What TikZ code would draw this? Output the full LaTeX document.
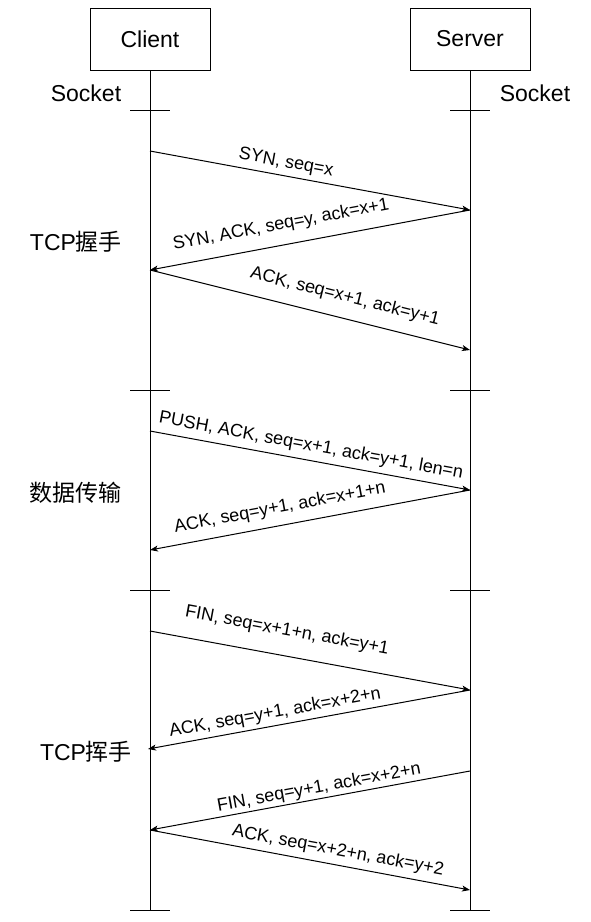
\documentclass[tikz,border=0pt]{standalone}
\usepackage{fontspec}
\setmainfont{Liberation Sans}
\newfontfamily\cjk{Noto Sans CJK SC}
\usetikzlibrary{arrows.meta}
\begin{document}
\begin{tikzpicture}[x=1pt,y=-1pt,
  big/.style={font=\fontsize{23}{27}\selectfont, inner sep=0pt},
  lbl/.style={font=\fontsize{18}{21}\selectfont, inner sep=0pt},
  actor/.style={draw, line width=1pt, minimum width=120pt, minimum height=62pt, big},
  life/.style={line width=1pt},
  tick/.style={line width=1pt},
  msg/.style={line width=1pt, -{Stealth[length=8pt,width=6pt,inset=2pt]}}]
\useasboundingbox (0,0) rectangle (591,922);
% actors
\node[actor] (client) at (150,39) {Client};
\node[actor] (server) at (470,39) {Server};
\coordinate (cend) at (150,910);
\coordinate (send) at (470,910);
\draw[life] (client.south) -- (cend);
\draw[life] (server.south) -- (send);
\node[big] (sockc) at (86,93) {Socket};
\node[big] (socks) at (535,93) {Socket};
% ticks
\foreach \y [count=\i] in {110,390,590,910}{
  \coordinate (ctl\i) at (130,\y); \coordinate (ctr\i) at (170,\y);
  \coordinate (stl\i) at (450,\y); \coordinate (str\i) at (490,\y);
  \draw[tick] (ctl\i) -- (ctr\i);
  \draw[tick] (stl\i) -- (str\i);
}
% section labels
\node[big] (hs) at (76,242) {TCP{\cjk 握手}};
\node[big] (dt) at (76,493) {\cjk 数据传输};
\node[big] (fw) at (86,752) {TCP{\cjk 挥手}};
% message endpoints
\coordinate (c1) at (150,151); \coordinate (s1) at (470,210);
\coordinate (c2) at (150,270); \coordinate (s2) at (470,350);
\coordinate (c3) at (150,431); \coordinate (s3) at (470,490);
\coordinate (c4) at (150,550);
\coordinate (c5) at (150,631); \coordinate (s5) at (470,690);
\coordinate (c6) at (148,749);
\coordinate (s7) at (470,771); \coordinate (c7) at (150,830);
\coordinate (s8) at (470,890);
% messages
\draw[msg] (c1) -- (s1);
\draw[msg] (s1) -- (c2);
\draw[msg] (c2) -- (s2);
\draw[msg] (c3) -- (s3);
\draw[msg] (s3) -- (c4);
\draw[msg] (c5) -- (s5);
\draw[msg] (s5) -- (c6);
\draw[msg] (s7) -- (c7);
\draw[msg] (c7) -- (s8);
% labels
\node[lbl, rotate=-10.45] (l1) at (286,163) {SYN, seq=x};
\node[lbl, rotate=10.6] (l2) at (281,225) {SYN, ACK, seq=y, ack=x+1};
\node[lbl, rotate=-14.04] (l3) at (345,297) {ACK, seq=x+1, ack=y+1};
\node[lbl, rotate=-10.45] (l4) at (311,446) {PUSH, ACK, seq=x+1, ack=y+1, len=n};
\node[lbl, rotate=10.6] (l5) at (280,508) {ACK, seq=y+1, ack=x+1+n};
\node[lbl, rotate=-10.45] (l6) at (287,631) {FIN, seq=x+1+n, ack=y+1};
\node[lbl, rotate=10.4] (l7) at (275,713) {ACK, seq=y+1, ack=x+2+n};
\node[lbl, rotate=10.45] (l8) at (319,788) {FIN, seq=y+1, ack=x+2+n};
\node[lbl, rotate=-10.6] (l9) at (338,851) {ACK, seq=x+2+n, ack=y+2};
\end{tikzpicture}
\end{document}
